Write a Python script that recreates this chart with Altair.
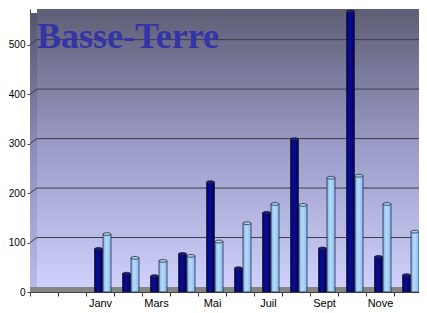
import altair as alt
import pandas as pd

months = ["_a", "_b", "Janv", "Févr", "Mars", "Avr", "Mai", "Juin",
          "Juil", "Août", "Sept", "Oct", "Nove", "Déc"]
real_months = months[2:]
shown = ["Janv", "Mars", "Mai", "Juil", "Sept", "Nove"]
series_dark = [87, 37, 32, 77, 222, 48, 160, 309, 88, 567, 71, 34]
series_light = [117, 69, 63, 73, 102, 139, 178, 176, 231, 235, 178, 122]
grid_values = [100, 200, 300, 400, 500]
y_ticks = [0, 100, 200, 300, 400, 500]
title_text = "Basse-Terre"

W, H = 389, 283
XRANGE = 392
DEPTH_X, DEPTH_Y = 7, 5

df_dark = pd.DataFrame({"month": real_months, "value": series_dark})
df_light = pd.DataFrame({"month": real_months, "value": series_light})
df_grid = pd.DataFrame({"v": grid_values})
one = alt.Data(values=[{"a": 1}])

yscale = alt.Scale(domain=[0, 572], nice=False, zero=True)
xscale = alt.Scale(domain=months, paddingInner=0, paddingOuter=0, range=[0, XRANGE])

label_expr = "indexof(" + str(shown) + ", datum.value) >= 0 ? datum.value : ''"

back = alt.Chart(one).mark_rect(
    color=alt.LinearGradient(
        gradient="linear", x1=0, x2=0, y1=0, y2=1,
        stops=[alt.GradientStop(offset=0, color="#5e5e76"),
               alt.GradientStop(offset=0.5, color="#9c9cc8"),
               alt.GradientStop(offset=1, color="#d0d0fc")])
).encode(x=alt.value(DEPTH_X), x2=alt.value(XRANGE), y=alt.value(0), y2=alt.value(H - DEPTH_Y))

side = alt.Chart(one).mark_rect(
    color=alt.LinearGradient(
        gradient="linear", x1=0, x2=0, y1=0, y2=1,
        stops=[alt.GradientStop(offset=0, color="#55556c"),
               alt.GradientStop(offset=0.5, color="#8e8eba"),
               alt.GradientStop(offset=1, color="#bcbcec")])
).encode(x=alt.value(0), x2=alt.value(DEPTH_X), y=alt.value(4), y2=alt.value(H))

floor = alt.Chart(one).mark_rect(color="#858585").encode(
    x=alt.value(0), x2=alt.value(XRANGE), y=alt.value(H - DEPTH_Y), y2=alt.value(H))

grid = alt.Chart(df_grid).mark_rule(color="#3c3c4c", strokeWidth=1, yOffset=-DEPTH_Y).encode(
    y=alt.Y("v:Q", scale=yscale), x=alt.value(DEPTH_X), x2=alt.value(XRANGE))

diag = alt.Chart(df_grid).mark_rule(color="#3c3c4c", strokeWidth=1, y2Offset=-DEPTH_Y).encode(
    y=alt.Y("v:Q", scale=yscale), y2="v", x=alt.value(0), x2=alt.value(DEPTH_X))

x_enc = alt.X("month:N", scale=xscale, sort=months, title=None,
              axis=alt.Axis(labelExpr=label_expr, labelAngle=0, tickBand="extent",
                            tickSize=4, labelPadding=1, labelFont="Liberation Sans",
                            labelFontSize=11, labelColor="#000", domainColor="#444",
                            tickColor="#444"))
y_enc = alt.Y("value:Q", scale=yscale, title=None,
              axis=alt.Axis(values=y_ticks, grid=False, tickSize=3, labelPadding=2,
                            labelFont="Liberation Sans", labelFontSize=10,
                            labelColor="#000", domainColor="#444", tickColor="#444"))

dark_grad = alt.LinearGradient(gradient="linear", x1=0, x2=1, y1=0, y2=0,
                               stops=[alt.GradientStop(offset=0, color="#00005e"),
                                      alt.GradientStop(offset=0.4, color="#0c0c96"),
                                      alt.GradientStop(offset=1, color="#000060")])
light_grad = alt.LinearGradient(gradient="linear", x1=0, x2=1, y1=0, y2=0,
                                stops=[alt.GradientStop(offset=0, color="#78aee6"),
                                       alt.GradientStop(offset=0.4, color="#b8dcff"),
                                       alt.GradientStop(offset=1, color="#86bcf2")])

ellipse = "M -1 0 A 1 0.35 0 1 0 1 0 A 1 0.35 0 1 0 -1 0 Z"

bars_dark = alt.Chart(df_dark).mark_bar(size=8, xOffset=-1.5, color=dark_grad,
                                        stroke="#1a1a1a", strokeWidth=0.7).encode(x=x_enc, y=y_enc)
caps_dark = alt.Chart(df_dark).mark_point(shape=ellipse, size=64, filled=True, fill="#1c1c8c",
                                          stroke="#1a1a1a", strokeWidth=0.7, opacity=1,
                                          xOffset=-1.5).encode(
    x=alt.X("month:N", scale=xscale, sort=months), y=alt.Y("value:Q", scale=yscale))
bars_light = alt.Chart(df_light).mark_bar(size=8, xOffset=7, color=light_grad,
                                          stroke="#1a1a1a", strokeWidth=0.7).encode(x=x_enc, y=y_enc)
caps_light = alt.Chart(df_light).mark_point(shape=ellipse, size=64, filled=True, fill="#a8d0f8",
                                            stroke="#1a1a1a", strokeWidth=0.7, opacity=1,
                                            xOffset=7).encode(
    x=alt.X("month:N", scale=xscale, sort=months), y=alt.Y("value:Q", scale=yscale))

title = alt.Chart(alt.Data(values=[{"t": title_text}])).mark_text(
    font="Liberation Serif", fontWeight="bold", fontSize=36, color="#3434a6",
    align="left", baseline="alphabetic").encode(
    text="t:N", x=alt.value(7), y=alt.value(39))

chart = alt.layer(back, side, floor, grid, diag, title, bars_dark, caps_dark,
                  bars_light, caps_light).properties(
    width=W, height=H, autosize="none",
    padding={"left": 22, "top": 1, "right": 0, "bottom": 20}
).configure_view(stroke=None)

chart.save("out.html", embed_options={"renderer": "svg", "actions": False})
